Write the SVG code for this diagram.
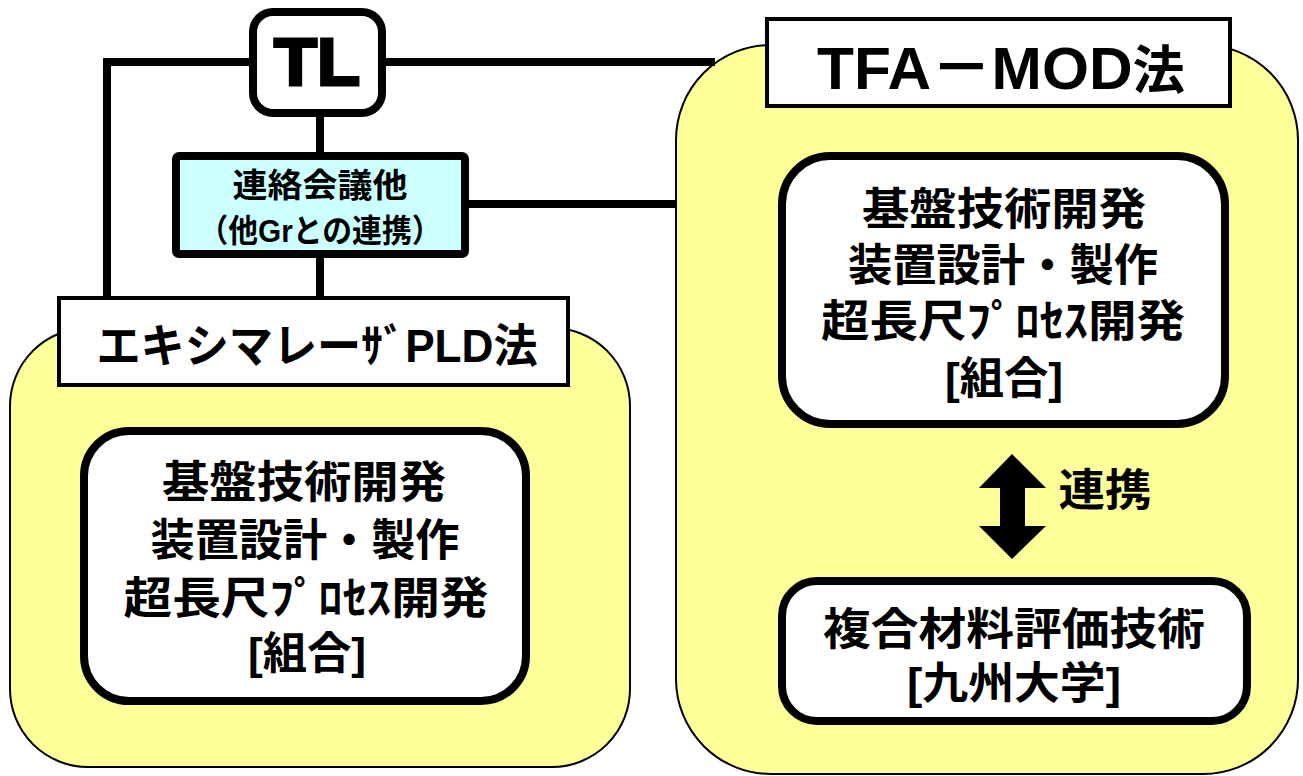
<svg xmlns="http://www.w3.org/2000/svg" width="1303" height="776" viewBox="0 0 1303 776">
<style>
.t{font-family:"Liberation Sans","Noto Sans CJK JP",sans-serif;font-weight:bold;fill:#000;text-anchor:middle}
.yel{fill:#FFFF99;stroke:#000;stroke-width:2}
.lab{fill:#fff;stroke:#000;stroke-width:4}
.thick{fill:#fff;stroke:#000;stroke-width:8}
.conn{fill:none;stroke:#000;stroke-width:8}
</style>
<rect width="1303" height="776" fill="#fff"/>
<g id="pld-area">
<rect class="yel" x="10" y="328" width="620" height="439" rx="78" ry="78"/>
</g>
<g id="tfa-area">
<rect class="yel" x="676" y="45" width="622" height="729" rx="95" ry="95"/>
</g>
<g id="connectors">
<path class="conn" d="M107,297 V62 H253"/>
<path class="conn" d="M382,62 H715"/>
<path class="conn" d="M320,113 V156"/>
<path class="conn" d="M465,204 H677"/>
<path class="conn" d="M320,254 V298"/>
<polygon points="1012,454 1046,488 1025,488 1025,526 1046,526 1012,559 979,526 1000,526 1000,488 979,488" fill="#000"/>
<text class="t" x="1105" y="506" font-size="44" textLength="93" lengthAdjust="spacingAndGlyphs">連携</text>
</g>
<g id="tl">
<rect class="thick" x="253" y="12" width="129" height="101" rx="20" ry="20"/>
<text class="t" x="317" y="85" font-size="66" stroke="#000" stroke-width="3" textLength="86" lengthAdjust="spacingAndGlyphs">TL</text>
</g>
<g id="meeting">
<rect x="176" y="156" width="289" height="98" rx="3" fill="#CCFFFF" stroke="#000" stroke-width="8"/>
<text class="t" x="320" y="197" font-size="33" textLength="175" lengthAdjust="spacingAndGlyphs">連絡会議他</text>
<text class="t" x="320" y="242" font-size="32" textLength="243" lengthAdjust="spacingAndGlyphs">（他Grとの連携）</text>
</g>
<g id="pld-label">
<rect class="lab" x="59" y="298" width="509" height="87"/>
<text class="t" x="317" y="362" font-size="46" textLength="441" lengthAdjust="spacingAndGlyphs">エキシマレーｻﾞPLD法</text>
</g>
<g id="pld-kumiai">
<rect class="thick" x="84" y="431" width="442" height="270" rx="45" ry="45"/>
<text class="t" x="304" y="498" font-size="44" textLength="284" lengthAdjust="spacingAndGlyphs">基盤技術開発</text>
<text class="t" x="305" y="556" font-size="44" textLength="309" lengthAdjust="spacingAndGlyphs">装置設計・製作</text>
<text class="t" x="306" y="614" font-size="44" textLength="365" lengthAdjust="spacingAndGlyphs">超長尺ﾌﾟﾛｾｽ開発</text>
<text class="t" x="307" y="669" font-size="44" textLength="118" lengthAdjust="spacingAndGlyphs">[組合]</text>
</g>
<g id="tfa-label">
<rect class="lab" x="767" y="19" width="463" height="87"/>
<text class="t" x="1001" y="89" textLength="368" lengthAdjust="spacingAndGlyphs"><tspan font-size="60">TFA－MOD</tspan><tspan font-size="52">法</tspan></text>
</g>
<g id="tfa-kumiai">
<rect class="thick" x="782" y="156" width="443" height="268" rx="48" ry="48"/>
<text class="t" x="1004" y="225" font-size="44" textLength="284" lengthAdjust="spacingAndGlyphs">基盤技術開発</text>
<text class="t" x="1003" y="281" font-size="44" textLength="310" lengthAdjust="spacingAndGlyphs">装置設計・製作</text>
<text class="t" x="1003" y="337" font-size="44" textLength="364" lengthAdjust="spacingAndGlyphs">超長尺ﾌﾟﾛｾｽ開発</text>
<text class="t" x="1004" y="394" font-size="44" textLength="118" lengthAdjust="spacingAndGlyphs">[組合]</text>
</g>
<g id="kyushu">
<rect class="thick" x="782" y="581" width="465" height="140" rx="35" ry="35"/>
<text class="t" x="1014" y="645" font-size="44" textLength="382" lengthAdjust="spacingAndGlyphs">複合材料評価技術</text>
<text class="t" x="1014" y="699" font-size="44" textLength="214" lengthAdjust="spacingAndGlyphs">[九州大学]</text>
</g>
</svg>
